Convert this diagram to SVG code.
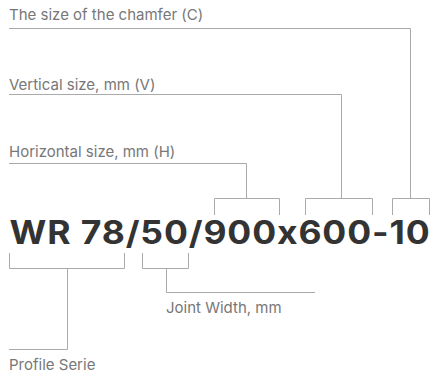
<svg xmlns="http://www.w3.org/2000/svg" width="434" height="381" viewBox="0 0 434 381">
<style>
text{font-feature-settings:"calt" 0;font-variant-ligatures:none}
.lbl{font-family:Inter,"Noto Sans",sans-serif;font-size:15px;fill:#777}
.big{font-family:Inter,"Noto Sans",sans-serif;font-size:32px;font-weight:700;fill:#333;letter-spacing:0.8px}
.ln{fill:none;stroke:#aaa;stroke-width:1}
</style>
<rect width="434" height="381" fill="#fff"/>
<g id="labels">
<text id="chamfer" class="lbl" x="9" y="20">The size of the chamfer (C)</text>
<text id="vertical" class="lbl" x="9" y="90">Vertical size, mm (V)</text>
<text id="horizontal" class="lbl" x="9" y="156.5">Horizontal size, mm (H)</text>
<text id="joint" class="lbl" x="166" y="313">Joint Width, mm</text>
<text id="profile" class="lbl" x="9" y="370">Profile Serie</text>
</g>
<g id="code"><text class="big" x="9.5" y="243.5" textLength="421" lengthAdjust="spacingAndGlyphs">WR 78/50/900x600-10</text></g>
<g id="connectors">
<path class="ln" d="M9,28.5H410.5V198.5M392.5,215V198.5H429.5V215"/>
<path class="ln" d="M9,94.5H341.5V198.5M305.5,215V198.5H372.5V215"/>
<path class="ln" d="M9,163.5H246.5V198.5M214.5,215V198.5H279.5V215"/>
<path class="ln" d="M9.5,253V268.5H124.5V253M67.5,268.5V349.5H9"/>
<path class="ln" d="M142.5,253V268.5H188.5V253M166.5,268.5V292.5H315"/>
</g>
</svg>
